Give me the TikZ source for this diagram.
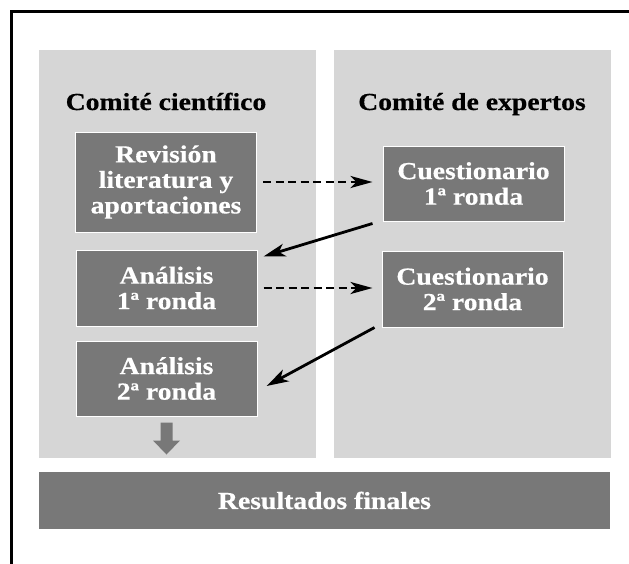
\documentclass[tikz,border=0pt]{standalone}
\usepackage{fontspec}
\setmainfont{Liberation Serif}[FakeStretch=1.13, FakeBold=0.5]
\usetikzlibrary{arrows.meta}
\definecolor{panelgray}{HTML}{D6D6D6}
\definecolor{boxgray}{HTML}{787878}
\tikzset{
  panel/.style={fill=panelgray, draw=none},
  labelfont/.style={font=\fontsize{24.5}{25.5}\selectfont\bfseries},
  stepbox/.style={labelfont, fill=boxgray, draw=white, line width=1pt, text=white,
    align=center, minimum width=181pt, inner sep=0pt},
  heading/.style={labelfont, anchor=base},
  dasharrow/.style={line width=2.8pt, dash pattern=on 8pt off 4.5pt,
    -{Stealth[length=22pt, width=12pt, inset=6pt]}},
  solidarrow/.style={line width=2.8pt,
    -{Stealth[length=22pt, width=13pt, inset=6pt]}},
}
\begin{document}
\begin{tikzpicture}[x=1pt, y=-1pt]
\useasboundingbox (0,0) rectangle (629,563);
% outer frame (cut by the page on the right and at the bottom)
\draw[line width=3pt] (11,580) -- (11,11) -- (650,11);
% panels
\fill[panel] (39,50) rectangle (316,458);
\fill[panel] (334,50) rectangle (611,458);
% headings
\node[heading] (h1) at (166,110) {Comité científico};
\node[heading] (h2) at (472,110) {Comité de expertos};
% boxes
\node[stepbox, minimum height=100pt] (rev) at (166,182) {Revisión\\literatura y\\aportaciones};
\node[stepbox, minimum height=75pt] (c1) at (473.5,183.5) {Cuestionario\\1ª ronda};
\node[stepbox, minimum height=76pt] (an1) at (166.5,288) {Análisis\\1ª ronda};
\node[stepbox, minimum height=76pt] (c2) at (472.5,289) {Cuestionario\\2ª ronda};
\node[stepbox, minimum height=75pt] (an2) at (166.5,378.5) {Análisis\\2ª ronda};
% final box
\node[labelfont, fill=boxgray, text=white, minimum width=571pt, minimum height=57pt,
  inner sep=0pt] (res) at (324.5,500.5) {Resultados finales};
% dashed arrows
\draw[dasharrow, shorten <=6pt, shorten >=10pt] (rev.east) -- (rev.east -| c1.west);
\draw[dasharrow, shorten <=6pt, shorten >=9pt] (an1.east) -- (an1.east -| c2.west);
% solid arrows
\draw[solidarrow] ([xshift=-10pt, yshift=-2pt]c1.south west) -- ([xshift=6pt, yshift=-7pt]an1.north east);
\draw[solidarrow] ([xshift=-7pt]c2.south west) -- ([xshift=9pt, yshift=-7.5pt]an2.east);
% down block arrow
\fill[boxgray] (an2.south) ++(-6,6) -- ++(12,0) -- ++(0,18) -- ++(7.5,0)
  -- ++(-13.5,14) -- ++(-13.5,-14) -- ++(7.5,0) -- cycle;
\end{tikzpicture}
\end{document}
